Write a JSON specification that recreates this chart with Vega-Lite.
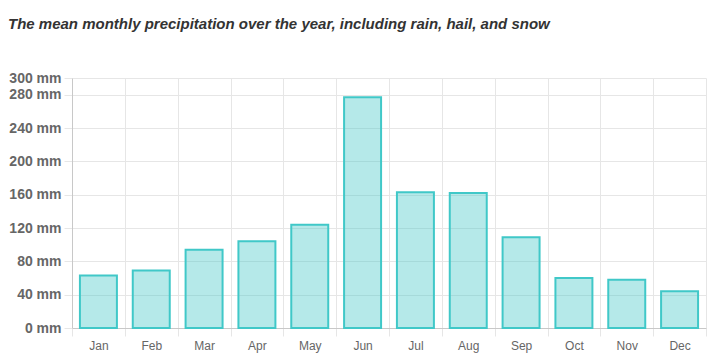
{
  "$schema": "https://vega.github.io/schema/vega-lite/v6.json",
  "autosize": "none",
  "width": 634,
  "height": 250,
  "padding": {"left": 72, "top": 78, "right": 12, "bottom": 34},
  "background": "white",
  "title": {
    "text": "The mean monthly precipitation over the year, including rain, hail, and snow",
    "anchor": "start",
    "frame": "group",
    "dx": -64,
    "offset": 27,
    "baseline": "alphabetic",
    "font": "Liberation Sans",
    "fontSize": 15,
    "fontStyle": "italic",
    "fontWeight": "bold",
    "color": "#333333"
  },
  "data": {
    "values": [
      {"month": "Jan", "mm": 63},
      {"month": "Feb", "mm": 69},
      {"month": "Mar", "mm": 94},
      {"month": "Apr", "mm": 104},
      {"month": "May", "mm": 124},
      {"month": "Jun", "mm": 277},
      {"month": "Jul", "mm": 163},
      {"month": "Aug", "mm": 162},
      {"month": "Sep", "mm": 109},
      {"month": "Oct", "mm": 60},
      {"month": "Nov", "mm": 58},
      {"month": "Dec", "mm": 44}
    ]
  },
  "mark": {
    "type": "bar",
    "width": {"band": 0.7},
    "fill": "#46c8c8",
    "fillOpacity": 0.4,
    "stroke": "#40c8c8",
    "strokeWidth": 2
  },
  "encoding": {
    "x": {
      "field": "month",
      "type": "nominal",
      "sort": null,
      "scale": {"paddingInner": 0, "paddingOuter": 0},
      "axis": {
        "title": null,
        "labelAngle": 0,
        "tickBand": "extent",
        "grid": true,
        "gridColor": "#e6e6e6",
        "tickColor": "#e6e6e6",
        "tickSize": 8,
        "domainColor": "#c8c8c8",
        "labelFont": "Liberation Sans",
        "labelFontSize": 12,
        "labelColor": "#666666",
        "labelPadding": 4
      }
    },
    "y": {
      "field": "mm",
      "type": "quantitative",
      "scale": {"domain": [0, 300], "nice": false},
      "axis": {
        "title": null,
        "values": [0, 40, 80, 120, 160, 200, 240, 280, 300],
        "labelExpr": "datum.value + ' mm'",
        "grid": true,
        "gridColor": "#e6e6e6",
        "tickColor": "#e6e6e6",
        "tickSize": 8,
        "domainColor": "#c8c8c8",
        "labelFont": "Liberation Sans",
        "labelFontSize": 14,
        "labelFontWeight": "bold",
        "labelColor": "#666666",
        "labelPadding": 3
      }
    }
  },
  "config": {"view": {"stroke": null}}
}
